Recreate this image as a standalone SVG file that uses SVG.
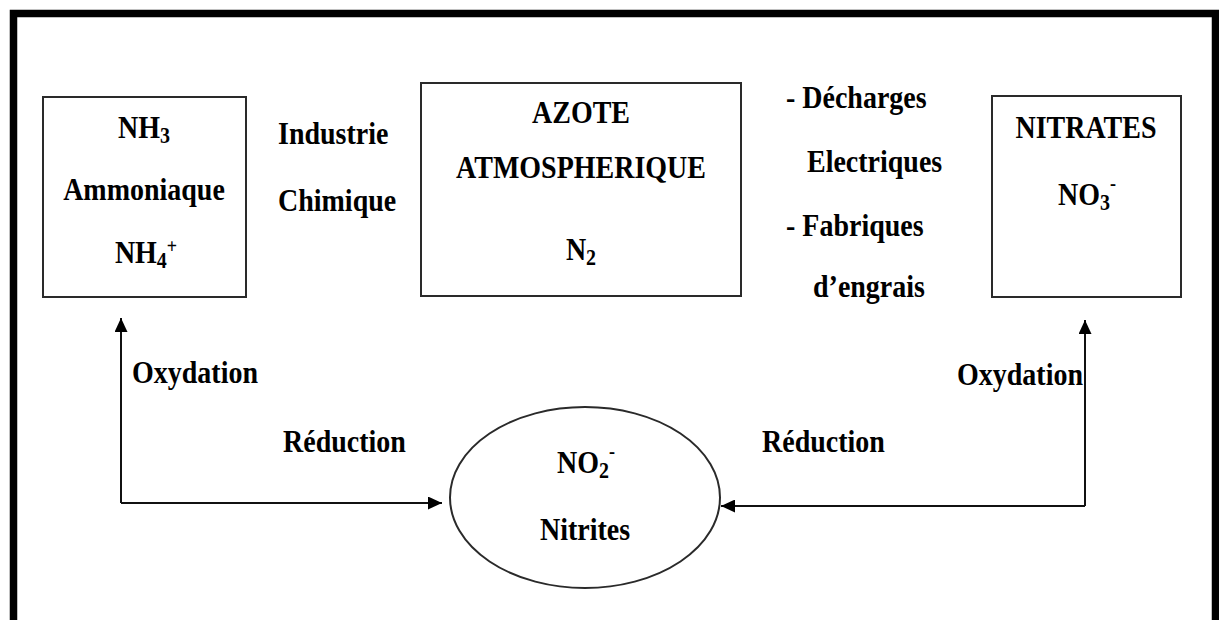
<svg xmlns="http://www.w3.org/2000/svg" width="1219" height="620" viewBox="0 0 1219 620">
  <style>
    .t { font-family: "Liberation Serif", "Times New Roman", serif; font-weight: bold; font-size: 28px; fill: #000; }
    .c { text-anchor: middle; }
    .box { fill: #fff; stroke: #2a2a2a; stroke-width: 2; }
    .con { fill: none; stroke: #111; stroke-width: 2; marker-end: url(#ah); }
    .sub { font-size: 20px; }
    .sup { font-size: 18px; }
  </style>
  <defs>
    <marker id="ah" markerUnits="userSpaceOnUse" markerWidth="14" markerHeight="13" refX="14" refY="6.5" orient="auto">
      <path d="M0,0 L14,6.5 L0,13 Z" fill="#000"/>
    </marker>
  </defs>
  <rect x="0" y="0" width="1219" height="620" fill="#fff"/>
  <rect id="frame" x="13.5" y="13.5" width="1202" height="640" fill="none" stroke="#000" stroke-width="7.5"/>

  <g id="connectors">
    <path class="con" d="M121,503 V318"/>
    <path class="con" d="M121,503 H442"/>
    <path class="con" d="M1085,506 V320"/>
    <path class="con" d="M1085,506 H721"/>
    <text class="t" transform="translate(132,383) scale(1,1.15)">Oxydation</text>
    <text class="t" transform="translate(283,452) scale(1,1.15)">Réduction</text>
    <text class="t" transform="translate(762,452) scale(1,1.15)">Réduction</text>
    <text class="t" transform="translate(957,385) scale(1,1.15)">Oxydation</text>
  </g>

  <g id="ammoniaque">
    <rect class="box" x="43" y="97" width="203" height="200"/>
    <text class="t c" transform="translate(144,138) scale(1,1.15)">NH<tspan class="sub" dy="4">3</tspan></text>
    <text class="t c" transform="translate(144,200) scale(1,1.15)">Ammoniaque</text>
    <text class="t c" transform="translate(146,263) scale(1,1.15)">NH<tspan class="sub" dy="4">4</tspan><tspan class="sup" dy="-13">+</tspan></text>
  </g>

  <g id="industrie">
    <text class="t" transform="translate(278,144) scale(1,1.15)">Industrie</text>
    <text class="t" transform="translate(278,211) scale(1,1.15)">Chimique</text>
  </g>

  <g id="azote">
    <rect class="box" x="421" y="83" width="320" height="213"/>
    <text class="t c" transform="translate(581,123) scale(1,1.15)">AZOTE</text>
    <text class="t c" transform="translate(581,178) scale(1,1.15)">ATMOSPHERIQUE</text>
    <text class="t c" transform="translate(581,260) scale(1,1.15)">N<tspan class="sub" dy="4">2</tspan></text>
  </g>

  <g id="sources">
    <text class="t" transform="translate(786,108) scale(1,1.15)">- Décharges</text>
    <text class="t" transform="translate(807,172) scale(1,1.15)">Electriques</text>
    <text class="t" transform="translate(786,236) scale(1,1.15)">- Fabriques</text>
    <text class="t" transform="translate(813,297) scale(1,1.15)">d’engrais</text>
  </g>

  <g id="nitrates">
    <rect class="box" x="992" y="96" width="189" height="201"/>
    <text class="t c" transform="translate(1086,138) scale(1,1.15)">NITRATES</text>
    <text class="t c" transform="translate(1087,205) scale(1,1.15)">NO<tspan class="sub" dy="4">3</tspan><tspan class="sup" dy="-17">-</tspan></text>
  </g>

  <g id="nitrites">
    <ellipse class="box" cx="585" cy="497.5" rx="135" ry="90.5"/>
    <text class="t c" transform="translate(586,473) scale(1,1.15)">NO<tspan class="sub" dy="4">2</tspan><tspan class="sup" dy="-17">-</tspan></text>
    <text class="t c" transform="translate(585,540) scale(1,1.15)">Nitrites</text>
  </g>
</svg>
